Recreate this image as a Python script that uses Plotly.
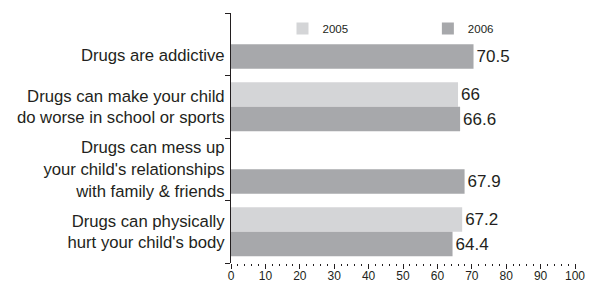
import plotly.graph_objects as go

categories = [
    "Drugs are addictive",
    "Drugs can make your child<br>do worse in school or sports",
    "Drugs can mess up<br>your child's relationships<br>with family & friends",
    "Drugs can physically<br>hurt your child's body",
]
values_2005 = [None, 66, None, 67.2]
values_2006 = [70.5, 66.6, 67.9, 64.4]
x_ticks = [0, 10, 20, 30, 40, 50, 60, 70, 80, 90, 100]

FONT = "Liberation Sans, Arial, sans-serif"
TXT = "#231f20"

def lab(v):
    if v is None:
        return None
    return f"{v:g}"

# the first label sits level with its single bar, so it gets an empty line above
y_ticktext = ["<br>" + categories[0]] + categories[1:]

fig = go.Figure()
fig.add_trace(go.Bar(
    y=categories, x=values_2005, orientation="h", name="2005",
    marker=dict(color="#d4d5d7", line=dict(width=0)),
    text=[lab(v) for v in values_2005], textposition="outside",
    textfont=dict(size=17, color=TXT, family=FONT), constraintext="none",
    cliponaxis=False, legend="legend", showlegend=True,
))
fig.add_trace(go.Bar(
    y=categories, x=values_2006, orientation="h", name="2006",
    marker=dict(color="#a7a8ab", line=dict(width=0)),
    text=[lab(v) for v in values_2006], textposition="outside",
    textfont=dict(size=17, color=TXT, family=FONT), constraintext="none",
    cliponaxis=False, legend="legend2", showlegend=True,
))

# page body has an 8px default margin; the figure is sized to fit the window
fig.update_layout(
    width=587, height=274,
    margin=dict(l=223, r=20, t=5, b=19, autoexpand=False),
    paper_bgcolor="white", plot_bgcolor="white",
    barmode="group", bargap=0.216, bargroupgap=0,
    font=dict(family=FONT, color=TXT),
    showlegend=True,
    legend=dict(x=0.1497, y=0.938, xanchor="left", yanchor="middle",
                orientation="h", font=dict(size=11.5, color=TXT, family=FONT),
                bgcolor="rgba(0,0,0,0)"),
    legend2=dict(x=0.5723, y=0.938, xanchor="left", yanchor="middle",
                 orientation="h", font=dict(size=11.5, color=TXT, family=FONT),
                 bgcolor="rgba(0,0,0,0)"),
)
fig.update_xaxes(
    range=[0, 100], tickvals=x_ticks, ticktext=[str(t) for t in x_ticks],
    showline=False, showgrid=False, zeroline=False, automargin=False,
    ticks="outside", ticklen=5, tickwidth=1, tickcolor=TXT,
    minor=dict(dtick=2, ticks="outside", ticklen=2, tickwidth=1, tickcolor=TXT, showgrid=False),
    tickfont=dict(size=12, color=TXT, family=FONT), ticklabelstandoff=-3,
)
fig.update_yaxes(
    autorange="reversed", showline=True, linecolor=TXT, linewidth=1,
    showgrid=False, zeroline=False, ticks="outside", ticklen=5, automargin=False,
    tickcolor=TXT, tickson="boundaries", ticklabelstandoff=2,
    tickvals=categories, ticktext=y_ticktext,
    tickfont=dict(size=16.7, color=TXT, family=FONT),
)

fig.write_html("out.html")
